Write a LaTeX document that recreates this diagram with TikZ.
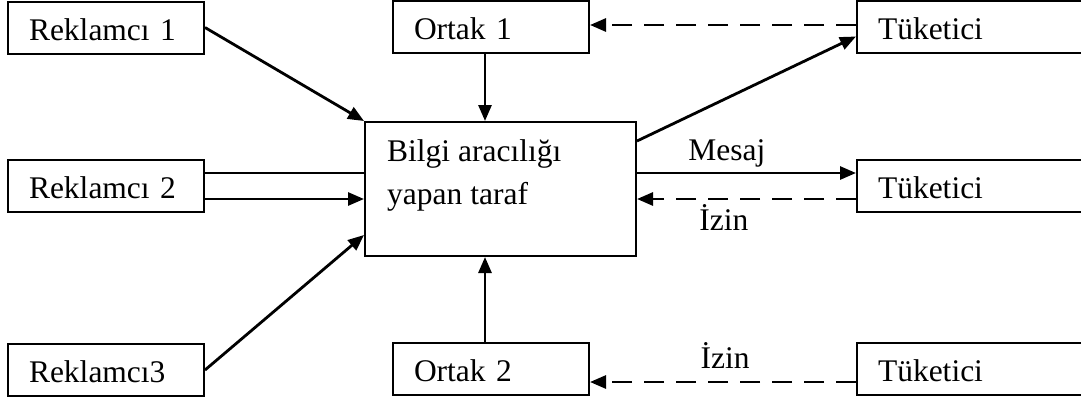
\documentclass[tikz,border=0pt]{standalone}
\usepackage{fontspec}
\setmainfont{Liberation Serif}
\usetikzlibrary{arrows.meta}
\begin{document}
\begin{tikzpicture}[x=1pt,y=-1pt,
  txt/.style={font=\fontsize{31.5}{43}\selectfont},
  box/.style={txt, draw, line width=2pt, rectangle, minimum height=52pt,
    inner xsep=21pt, text width=154pt, align=left, text height=25pt, text depth=0pt},
  widebox/.style={box, text width=200pt, anchor=west},
  conn/.style={line width=2.8pt, -{Triangle[length=16pt,width=13pt]}},
  plainconn/.style={line width=2.4pt},
  dashconn/.style={conn, dash pattern=on 20pt off 12pt},
  lbl/.style={txt, anchor=base, inner sep=0pt}]
\useasboundingbox (0,0) rectangle (1081,402);
\clip (0,0) rectangle (1081,402);

\node[box] (r1) at (106,27.5) {Reklamcı 1};
\node[box] (r2) at (106,185.5) {Reklamcı 2};
\node[box] (r3) at (106,370) {Reklamcı3};
\node[box] (o1) at (491,27) {Ortak 1};
\node[box] (o2) at (491,369) {Ortak 2};
\node[widebox] (t1) at (856,26.5) {Tüketici};
\node[widebox] (t2) at (856,185.5) {Tüketici};
\node[widebox] (t3) at (856,369) {Tüketici};
\node[draw, line width=2pt, rectangle, minimum width=271pt, minimum height=134pt] (c) at (500.5,189) {};
\node[txt, anchor=north west, align=left, inner sep=0pt] (ctext) at (387,139) {Bilgi aracılığı\\yapan taraf};

% left side
\draw[conn] (r1.east) -- (c.north west);
\draw[plainconn] ([yshift=12.5pt]r2.east) -- ([yshift=12.5pt]r2.east -| c.west);
\draw[conn] ([yshift=-13.5pt]r2.east) -- ([yshift=-13.5pt]r2.east -| c.west);
\draw[conn] (r3.east) -- ([yshift=22pt]c.south west);

% top and bottom
\draw[conn] ([xshift=-6pt]o1.south) -- ([xshift=-6pt]o1.south |- c.north);
\draw[conn] ([xshift=-6pt]o2.north) -- ([xshift=-6pt]o2.north |- c.south);

% right side
\draw[conn] ([yshift=-20pt]c.north east) -- ([yshift=-10pt]t1.west);
\draw[dashconn] ([yshift=1.5pt]t1.west) -- ([yshift=1.5pt]t1.west -| o1.east);
\draw[conn] ([yshift=12.5pt]t2.west -| c.east) -- node[lbl, pos=0.41, yshift=13pt] {Mesaj} ([yshift=12.5pt]t2.west);
\draw[dashconn] ([yshift=-13.5pt]t2.west) -- node[lbl, pos=0.603, yshift=-31pt] {İzin} ([yshift=-13.5pt]t2.west -| c.east);
\draw[dashconn] ([yshift=-13pt]t3.west) -- node[lbl, pos=0.492, yshift=14pt] {İzin} ([yshift=-13pt]t3.west -| o2.east);
\end{tikzpicture}
\end{document}
